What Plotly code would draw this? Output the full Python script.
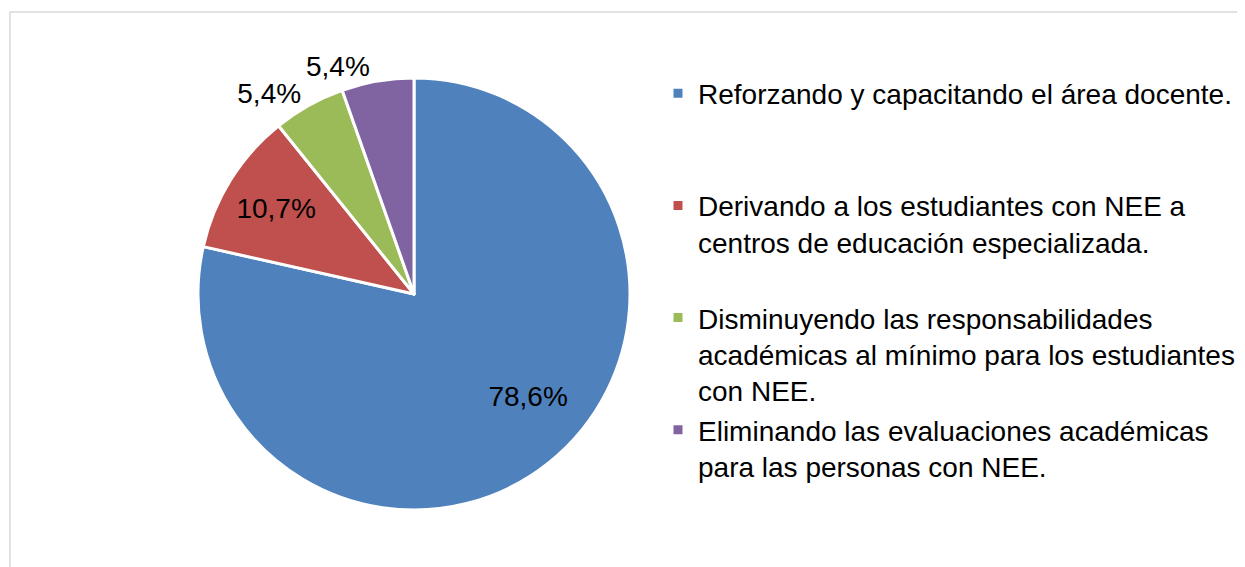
import plotly.graph_objects as go

labels = [
    "Reforzando y capacitando el área docente.",
    "Derivando a los estudiantes con NEE a<br>centros de educación especializada.",
    "Disminuyendo las responsabilidades<br>académicas al mínimo para los estudiantes\u00a0<br>con NEE.",
    "Eliminando las evaluaciones académicas<br>para las personas con NEE.",
]
values = [78.6, 10.7, 5.4, 5.4]
colors = ["#4F81BD", "#C0504D", "#9BBB59", "#8064A2"]
# blank lines so the legend entries sit evenly apart like the original
padding = ["<br> <br> ", "<br> ", "", ""]

font = "Liberation Sans, Arial, sans-serif"
OFF = 8  # page body margin: the figure is drawn 8px right and down
W, H = 1245, 567
domain = dict(x=[(198 - OFF) / W, (630 - OFF) / W],
              y=[1 - (510 - OFF) / H, 1 - (78 - OFF) / H])
legend_labels = [l + p for l, p in zip(labels, padding)]

nb = "\u00a0"
# nudge the big label outwards, the way the original places it
templates = [nb + "<br>" + nb * 12 + "%{value:.1f}%", "%{value:.1f}%",
             "%{value:.1f}%", "%{value:.1f}%"]

fig = go.Figure()
fig.add_trace(go.Pie(
    labels=legend_labels,
    values=values,
    sort=False,
    direction="clockwise",
    marker=dict(colors=colors, line=dict(color="white", width=3)),
    texttemplate=templates,
    textposition=["inside", "inside", "outside", "none"],
    insidetextorientation="horizontal",
    textfont=dict(family=font, size=28, color="black"),
    hoverinfo="label+percent",
    domain=domain,
))
# the last small slice gets its label from a see-through copy of the pie,
# so plotly does not push the two outside labels apart with a leader line
fig.add_trace(go.Pie(
    labels=legend_labels,
    values=values,
    sort=False,
    direction="clockwise",
    marker=dict(colors=["rgba(0,0,0,0)"] * 4, line=dict(width=0)),
    texttemplate="%{value:.1f}%",
    textposition=["none", "none", "none", "outside"],
    textfont=dict(family=font, size=28, color="black"),
    hoverinfo="skip",
    showlegend=False,
    domain=domain,
))

fig.add_shape(type="rect", xref="paper", yref="paper",
              x0=(10 - OFF) / W, x1=1.02, y0=-0.05, y1=1 - (12 - OFF) / H,
              line=dict(color="#D9D9D9", width=1.5), fillcolor="rgba(0,0,0,0)")

fig.update_layout(
    width=W, height=H,
    margin=dict(l=0, r=0, t=0, b=0, autoexpand=False),
    paper_bgcolor="white",
    separators=",.",
    font=dict(family=font, size=28, color="black"),
    showlegend=True,
    legend=dict(x=(658 - OFF) / W, xanchor="left", y=1 - (68.5 - OFF) / H,
                yanchor="top", valign="top", bgcolor="rgba(0,0,0,0)",
                font=dict(family=font, size=28, color="black")),
)

fig.write_html("out.html")
